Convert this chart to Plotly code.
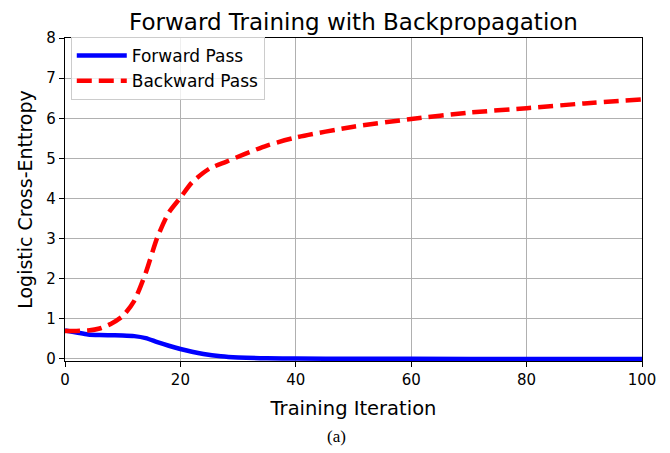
import plotly.graph_objects as go

fwd_x = [0, 2, 4, 6, 8, 10, 12, 14, 16, 18, 20, 22, 24, 27, 30, 35, 40, 50, 60, 80, 100]
fwd_y = [0.71, 0.66, 0.61, 0.595, 0.59, 0.585, 0.57, 0.52, 0.42, 0.33, 0.25, 0.18, 0.125, 0.07, 0.04, 0.017, 0.01, 0.005, 0.003, 0.001, 0.0]

bwd_x = [0, 2, 4, 6, 8, 10, 12, 14, 16, 18, 20, 22, 25, 28, 31, 35, 40, 50, 60, 70, 80, 90, 100]
bwd_y = [0.70, 0.70, 0.71, 0.76, 0.88, 1.07, 1.45, 2.15, 3.03, 3.65, 4.02, 4.4, 4.74, 4.92, 5.1, 5.32, 5.52, 5.79, 5.98, 6.14, 6.25, 6.37, 6.47]

x_ticks = [0, 20, 40, 60, 80, 100]
y_ticks = [0, 1, 2, 3, 4, 5, 6, 7, 8]

fig = go.Figure()
fig.add_trace(go.Scatter(x=fwd_x, y=fwd_y, mode="lines", name="Forward Pass",
                         line=dict(color="#0000ff", width=4.5, shape="spline", smoothing=0.7)))
fig.add_trace(go.Scatter(x=bwd_x, y=bwd_y, mode="lines", name="Backward Pass",
                         line=dict(color="#ff0000", width=4.5, dash="15px,7px", shape="spline", smoothing=0.7)))

font = "DejaVu Sans"
fig.update_layout(
    width=670, height=453,
    margin=dict(l=57, r=36, t=30, b=100, autoexpand=False),
    paper_bgcolor="white", plot_bgcolor="white",
    font=dict(family=font, color="black", size=15),
    title=dict(text="Forward Training with Backpropagation", x=0.5, xref="paper",
               y=1 - 6 / 453, yref="container", yanchor="top", pad=dict(t=0, b=0),
               font=dict(size=23, family=font)),
    showlegend=True,
    legend=dict(x=0.01, y=1.003, xanchor="left", yanchor="top", bgcolor="rgba(255,255,255,0.8)",
                bordercolor="#cccccc", borderwidth=1, font=dict(size=17, family=font),
                itemwidth=50, tracegroupgap=2),
    xaxis=dict(range=[0, 100], tickvals=x_ticks, ticks="outside", ticklen=5, tickcolor="black",
               showline=True, linecolor="black", linewidth=1.2, mirror=True,
               showgrid=True, gridcolor="#b0b0b0", gridwidth=1, zeroline=False, automargin=False,
               title=dict(text="Training Iteration", font=dict(size=19.5, family=font), standoff=13),
               tickfont=dict(size=15)),
    yaxis=dict(range=[-0.05, 8], tickvals=y_ticks, ticks="outside", ticklen=5, tickcolor="black",
               showline=True, linecolor="black", linewidth=1.2, mirror=True,
               showgrid=True, gridcolor="#b0b0b0", gridwidth=1, zeroline=False, automargin=False,
               title=dict(text="Logistic Cross-Enttropy", font=dict(size=19, family=font), standoff=8),
               tickfont=dict(size=15)),
)
fig.add_annotation(text="(a)", xref="paper", yref="paper", x=0.47, y=-0.235, yanchor="middle",
                   showarrow=False, font=dict(family="Liberation Serif", size=17, color="black"))

fig.write_html("out.html")
